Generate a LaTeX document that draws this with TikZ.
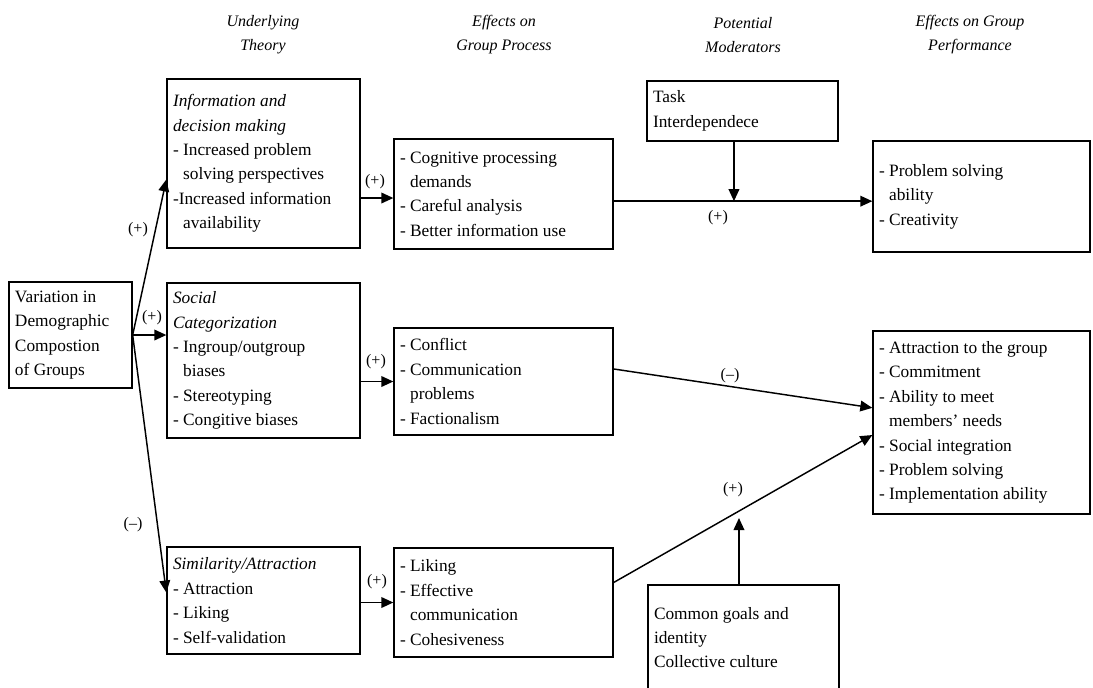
\documentclass[tikz,border=0pt]{standalone}
\usepackage{fontspec}
\setmainfont{Liberation Serif}
\usetikzlibrary{arrows.meta}
\newcommand{\ind}{\phantom{-\ }}
\tikzset{
  box/.style 2 args={draw, line width=1pt, align=flush left, inner xsep=4.5pt, inner ysep=0pt,
    minimum width={#1*0.75pt}, minimum height={#2*0.75pt}, text width={#1*0.75pt-9pt},
    font=\fontsize{13}{18.3}\selectfont},
  head/.style={align=center, font=\fontsize{12}{18}\selectfont\itshape},
  lab/.style={font=\fontsize{12}{14}\selectfont, inner sep=1pt},
  arr/.style={-{Triangle[length=9pt,width=8pt]}, line width=1.1pt},
}
\begin{document}
\begin{tikzpicture}[x=0.75pt,y=-0.75pt]
\useasboundingbox (0,0) rectangle (1093,687);
% headers
\node[head] (h1) at (263,35) {Underlying\\Theory};
\node[head] (h2) at (504,35) {Effects on\\Group Process};
\node[head] (h3) at (743,35) {Potential\\Moderators};
\node[head] (h4) at (970,35) {Effects on Group\\Performance};
% boxes
\node[box={123}{106}] (var) at (70.5,335) {Variation in\\Demographic\\Compostion\\of Groups};
\node[box={193}{169}] (info) at (263.5,163.5) {\textit{Information and}\\\textit{decision making}\\- Increased problem\\\ind solving perspectives\\-Increased information\\\ind availability};
\node[box={193}{155}] (soc) at (263.5,360.5) {\textit{Social}\\\textit{Categorization}\\- Ingroup/outgroup\\\ind biases\\- Stereotyping\\- Congitive biases};
\node[box={193}{107}] (sim) at (263.5,600.5) {\textit{Similarity/Attraction}\\- Attraction\\- Liking\\- Self-validation};
\node[box={219}{110}] (cog) at (503.5,194) {- Cognitive processing\\\ind demands\\- Careful analysis\\- Better information use};
\node[box={219}{107}] (conf) at (503.5,381.5) {- Conflict\\- Communication\\\ind problems\\- Factionalism};
\node[box={219}{109}] (lik) at (503.5,602.5) {- Liking\\- Effective\\\ind communication\\- Cohesiveness};
\node[box={191}{60}] (task) at (742.5,111) {Task\\Interdependece};
\node[box={191}{105}] (com) at (743.5,637.5) {Common goals and\\identity\\Collective culture};
\node[box={217}{111}] (ps) at (981.5,196.5) {- Problem solving\\\ind ability\\- Creativity};
\node[box={217}{183}] (att) at (981.5,422.5) {- Attraction to the group\\- Commitment\\- Ability to meet\\\ind members' needs\\- Social integration\\- Problem solving\\- Implementation ability};
% connectors from variation
\draw[arr] (var.east) -- ([yshift=-12pt]info.west);
\draw[arr] (var.east) -- (var.east -| soc.west);
\draw[arr] (var.east) -- ([yshift=6pt]sim.west);
\node[lab] (l1) at (138,230) {(+)};
\node[lab] (l2) at (152,318) {(+)};
\node[lab] (l3) at (133,525) {(–)};
% theory -> process
\path ([yshift=-3pt]cog.west) coordinate (c1);
\draw[arr] (c1 -| info.east) -- (c1);
\draw[arr] (conf.west -| soc.east) -- (conf.west);
\draw[arr] (lik.west -| sim.east) -- (lik.west);
\node[lab] (l4) at (375,182) {(+)};
\node[lab] (l5) at (376,362) {(+)};
\node[lab] (l6) at (377,582) {(+)};
% process -> performance
\path ([yshift=-3.5pt]ps.west) coordinate (c2);
\draw[arr] (c2 -| cog.east) -- (c2);
\path ([xshift=-6.4pt]task.south) coordinate (t1);
\draw[arr] (t1) -- (t1 |- c2);
\node[lab] (l7) at (718,218) {(+)};
\draw[arr] ([yshift=9.4pt]conf.east) -- ([yshift=11pt]att.west);
\node[lab] (l8) at (730,376) {(–)};
\draw[arr] ([yshift=15pt]lik.east) -- ([yshift=-9.4pt]att.west);
\node[lab] (l9) at (733,490) {(+)};
\path ([xshift=-3.4pt]com.north) coordinate (m1);
\coordinate (m2) at (739,518);
\draw[arr] (m1) -- (m1 |- m2);
\end{tikzpicture}
\end{document}
